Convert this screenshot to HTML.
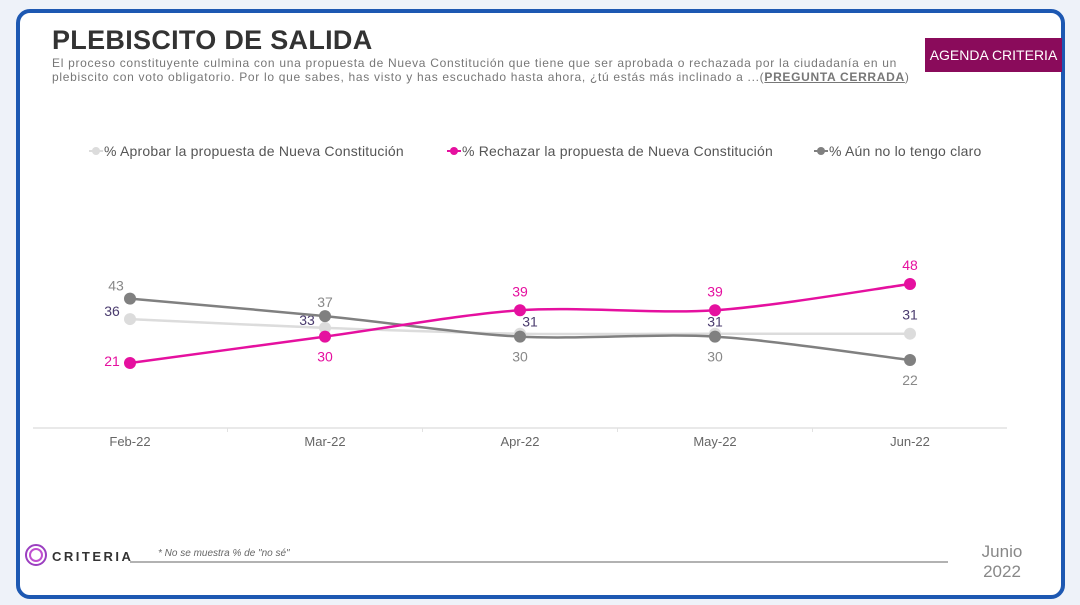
<!DOCTYPE html>
<html><head><meta charset="utf-8">
<style>
body{margin:0;width:1080px;height:605px;background:#eef2f9;font-family:"Liberation Sans",sans-serif;position:relative;overflow:hidden}
#card{position:absolute;left:16px;top:9px;width:1041px;height:582px;border:4px solid #1d58b2;border-radius:14px;background:#fff}
#title{position:absolute;left:52px;top:25px;font-size:27px;font-weight:bold;color:#333;letter-spacing:0.3px}
#sub{position:absolute;left:52px;top:56px;font-size:12px;color:#777;line-height:14px;white-space:nowrap;letter-spacing:0.7px}
#badge{position:absolute;left:925px;top:38px;width:137px;height:34px;background:#8a0b5b;color:#fff;font-size:14px;line-height:34px;text-align:center}
svg{position:absolute;left:0;top:0}
</style></head><body>
<div id="card"></div>
<div id="title">PLEBISCITO DE SALIDA</div>
<div id="sub">El proceso constituyente culmina con una propuesta de Nueva Constitución que tiene que ser aprobada o rechazada por la ciudadanía en un<br>plebiscito con voto obligatorio. Por lo que sabes, has visto y has escuchado hasta ahora, ¿tú estás más inclinado a ...(<b style="text-decoration:underline">PREGUNTA CERRADA</b>)</div>
<div id="badge">AGENDA CRITERIA</div>
<svg id="chart" width="1080" height="605">
<g font-size="14" fill="#555" letter-spacing="0.2">
 <g><line x1="89" y1="151" x2="103" y2="151" stroke="#dcdcdc" stroke-width="2"/><circle cx="96" cy="151" r="4" fill="#dcdcdc"/><text x="104" y="156">% Aprobar la propuesta de Nueva Constitución</text></g>
 <g><line x1="447" y1="151" x2="461" y2="151" stroke="#e5109f" stroke-width="2"/><circle cx="454" cy="151" r="4" fill="#e5109f"/><text x="462" y="156">% Rechazar la propuesta de Nueva Constitución</text></g>
 <g><line x1="814" y1="151" x2="828" y2="151" stroke="#808080" stroke-width="2"/><circle cx="821" cy="151" r="4" fill="#808080"/><text x="829" y="156">% Aún no lo tengo claro</text></g>
</g>
<line x1="33" y1="428" x2="1007" y2="428" stroke="#e2e2e2" stroke-width="1.5"/>
<g id="plot"></g>
<g>
 <circle cx="36" cy="555" r="10" fill="none" stroke="#9b3fc0" stroke-width="2"/>
 <circle cx="36" cy="555" r="6" fill="none" stroke="#c04fd0" stroke-width="2"/>
 <text x="52" y="561" font-size="13" font-weight="bold" fill="#333" letter-spacing="2.5">CRITERIA</text>
 <line x1="130" y1="562" x2="948" y2="562" stroke="#666" stroke-width="1"/>
 <text x="158" y="556" font-size="10" font-style="italic" fill="#666">* No se muestra % de "no sé"</text>
 <text x="1002" y="557" font-size="17" fill="#888" text-anchor="middle">Junio</text>
 <text x="1002" y="577" font-size="17" fill="#888" text-anchor="middle">2022</text>
</g>
</svg>
<script>
const categories=["Feb-22","Mar-22","Apr-22","May-22","Jun-22"];
const aprobar=[36,33,31,31,31];
const rechazar=[21,30,39,39,48];
const noClaro=[43,37,30,30,22];
const xs=i=>130+i*195;
const ys=v=>424.4-v*2.926;
const NS="http://www.w3.org/2000/svg";
const plot=document.getElementById('plot');
function el(t,a){const e=document.createElementNS(NS,t);for(const k in a)e.setAttribute(k,a[k]);plot.appendChild(e);return e;}
for(let i=0;i<categories.length;i++){
 if(i>0){const tk=el('line',{x1:xs(i)-97.5,y1:428,x2:xs(i)-97.5,y2:432,stroke:'#e2e2e2'});
 
 }
 const t=el('text',{x:xs(i),y:446,'font-size':13,fill:'#666','text-anchor':'middle'});t.textContent=categories[i];
 
 
}
function path(vals){
 const p=vals.map((v,i)=>[xs(i),ys(v)]);let d=`M${p[0][0]},${p[0][1]}`;
 for(let i=0;i<p.length-1;i++){const p0=p[i-1]||p[i],p1=p[i],p2=p[i+1],p3=p[i+2]||p2;const k=0.15;
 d+=` C${p1[0]+(p2[0]-p0[0])*k},${p1[1]+(p2[1]-p0[1])*k} ${p2[0]-(p3[0]-p1[0])*k},${p2[1]-(p3[1]-p1[1])*k} ${p2[0]},${p2[1]}`;}
 return d;
}
const series=[
 {name:'aprobar',vals:aprobar,color:'#dcdcdc',lc:'#4a3b6e',off:[[-18,-3,'middle'],[-18,-3,'middle'],[10,-7,'middle'],[0,-7,'middle'],[0,-14,'middle']]},
 {name:'no-claro',vals:noClaro,color:'#808080',lc:'#888',off:[[-14,-8,'middle'],[0,-9,'middle'],[0,25,'middle'],[0,25,'middle'],[0,25,'middle']]},
 {name:'rechazar',vals:rechazar,color:'#e5109f',lc:'#e5109f',off:[[-18,3,'middle'],[0,25,'middle'],[0,-14,'middle'],[0,-14,'middle'],[0,-14,'middle']]}
];
for(const s of series){
 const l=el('path',{d:path(s.vals),fill:'none',stroke:s.color,'stroke-width':2.5});
 
 
 s.vals.forEach((v,i)=>{
  const c=el('circle',{cx:xs(i),cy:ys(v),r:6,fill:s.color});
  
  
  const o=s.off[i];
  const t=el('text',{x:xs(i)+o[0],y:ys(v)+o[1],'font-size':14,fill:s.lc,'text-anchor':o[2]});t.textContent=v;
  
  
 });
}
</script>
</body></html>
